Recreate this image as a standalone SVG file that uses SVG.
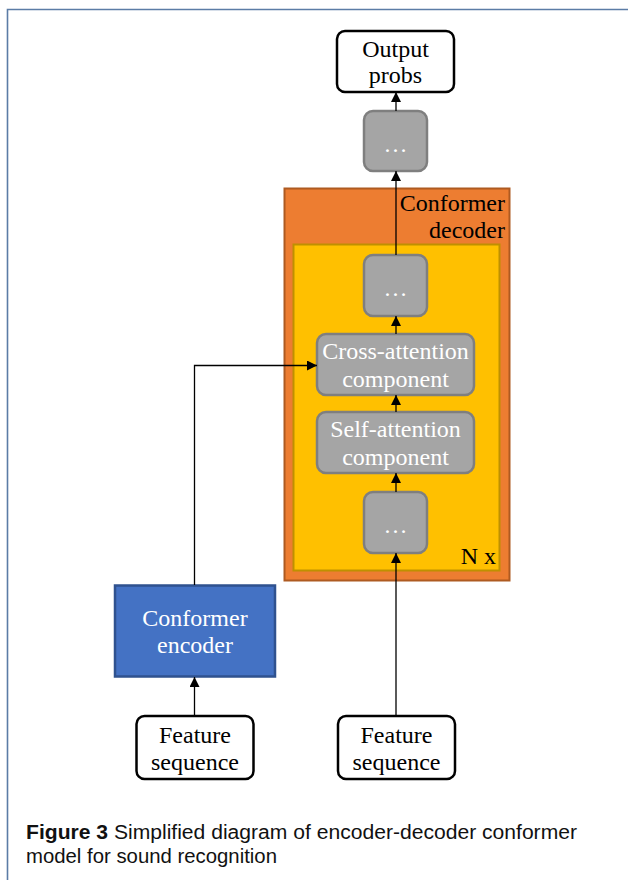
<svg xmlns="http://www.w3.org/2000/svg" width="628" height="880" viewBox="0 0 628 880">
<defs>
<marker id="ah" markerUnits="userSpaceOnUse" markerWidth="10" markerHeight="10" refX="10" refY="5" orient="auto">
<path d="M0,0 L10,5 L0,10 z" fill="#000"/>
</marker>
<style>
.t{font-family:"Liberation Serif","Times New Roman",serif;font-size:24px;text-anchor:middle}
.w{fill:#fff}
.k{fill:#000}
.io{fill:#fff;stroke:#000;stroke-width:2.5}
.g{fill:#A5A5A5;stroke:#7F7F7F;stroke-width:2.5}
.c{fill:none;stroke:#000;stroke-width:1.3;marker-end:url(#ah)}
.cap{font-family:"Liberation Sans",Arial,sans-serif;font-size:20px;fill:#111}
</style>
</defs>
<rect width="628" height="880" fill="#fff"/>
<path d="M7.5,880 V9.5 H628" fill="none" stroke="#5B7CA6" stroke-width="1.6"/>

<g id="decoder">
<rect x="284.5" y="188.5" width="225" height="392" fill="#ED7D31" stroke="#AE5A21" stroke-width="2"/>
<text class="t k" x="505" y="211" style="text-anchor:end">Conformer</text>
<text class="t k" x="505" y="238" style="text-anchor:end">decoder</text>
</g>
<g id="nx-block">
<rect x="293.5" y="244.5" width="206" height="326" fill="#FFC000" stroke="#BF9000" stroke-width="2"/>
<text class="t k" x="496" y="564" style="text-anchor:end">N x</text>
</g>

<g id="output-probs">
<rect class="io" x="337" y="31" width="117" height="61" rx="8"/>
<text class="t k" x="395.5" y="57">Output</text>
<text class="t k" x="395.5" y="83">probs</text>
</g>
<g id="dots-top">
<rect class="g" x="364" y="111" width="63" height="60" rx="9"/>
<text class="t w" x="395.5" y="152">…</text>
</g>
<g id="dots-inner-top">
<rect class="g" x="364" y="255" width="63" height="61" rx="9"/>
<text class="t w" x="395.5" y="296">…</text>
</g>
<g id="cross-attention">
<rect class="g" x="317" y="334" width="157" height="61" rx="9"/>
<text class="t w" x="395.5" y="359">Cross-attention</text>
<text class="t w" x="395.5" y="387">component</text>
</g>
<g id="self-attention">
<rect class="g" x="317" y="412" width="157" height="61" rx="9"/>
<text class="t w" x="395.5" y="437">Self-attention</text>
<text class="t w" x="395.5" y="465">component</text>
</g>
<g id="dots-inner-bottom">
<rect class="g" x="364" y="492" width="63" height="61" rx="9"/>
<text class="t w" x="395.5" y="533">…</text>
</g>
<g id="encoder">
<rect x="115" y="585.5" width="160" height="91" fill="#4472C4" stroke="#2F528F" stroke-width="2.5"/>
<text class="t w" x="195" y="626">Conformer</text>
<text class="t w" x="195" y="653">encoder</text>
</g>
<g id="feature-left">
<rect class="io" x="136.5" y="716" width="117" height="63" rx="8"/>
<text class="t k" x="195" y="743">Feature</text>
<text class="t k" x="195" y="770">sequence</text>
</g>
<g id="feature-right">
<rect class="io" x="338" y="716" width="117" height="63" rx="8"/>
<text class="t k" x="396.5" y="743">Feature</text>
<text class="t k" x="396.5" y="770">sequence</text>
</g>

<g id="connectors">
<path class="c" d="M194.5,716 V677"/>
<path class="c" d="M194.5,585 V365.5 H317"/>
<path class="c" d="M396,716 V553"/>
<path class="c" d="M396,492 V473"/>
<path class="c" d="M396,412 V395"/>
<path class="c" d="M396,334 V316"/>
<path class="c" d="M396,255 V171"/>
<path class="c" d="M396,111 V92"/>
</g>

<g id="caption">
<text class="cap" x="26" y="839" textLength="551" lengthAdjust="spacingAndGlyphs"><tspan font-weight="bold">Figure 3</tspan> Simplified diagram of encoder-decoder conformer</text>
<text class="cap" x="26" y="863" textLength="251" lengthAdjust="spacingAndGlyphs">model for sound recognition</text>
</g>
</svg>
